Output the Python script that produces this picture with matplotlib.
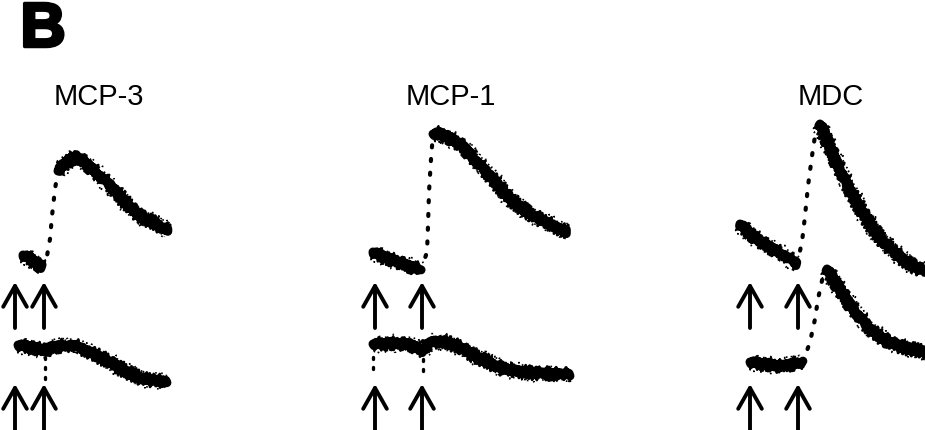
import numpy as np
import matplotlib.pyplot as plt
import matplotlib.patheffects as pe
from matplotlib.patches import FancyArrowPatch

# calcium flux traces, time (s) from first addition, signal (a.u.) above row baseline
# MCP-3
mcp3_top_t = [8, 15, 22, 27, 32, 35, 37, 40, 43, 52, 62, 72, 85, 98, 112, 125, 145, 153]
mcp3_top_f = [19, 16, 11, 7, 18, 35, 58, 85, 103, 113, 118, 110, 98, 86, 70, 58, 48, 43]
mcp3_bot_t = [3, 18, 30, 35, 45, 58, 75, 95, 112, 128, 152]
mcp3_bot_f = [24, 22, 18, 22, 23, 24, 17, 7, -3, -10, -13]
# MCP-1
mcp1_top_t = [-2, 15, 32, 46, 52, 53, 54, 56, 58, 65, 75, 88, 102, 118, 135, 152, 170, 185, 192]
mcp1_top_f = [22, 15, 9, 4, 22, 48, 82, 115, 140, 141, 136, 128, 112, 95, 75, 62, 52, 45, 42]
mcp1_bot_t = [-2, 15, 35, 48, 55, 68, 85, 102, 128, 158, 195]
mcp1_bot_f = [25, 26, 25, 18, 27, 28, 22, 12, 0, -4, -5]
# MDC
mdc_top_t = [-10, 7, 20, 37, 47, 52, 55, 58, 62, 65, 70, 75, 82, 90, 100, 110, 120, 130, 142, 155, 167, 175]
mdc_top_f = [50, 35, 27, 17, 10, 32, 58, 88, 118, 138, 150, 140, 122, 104, 84, 66, 50, 36, 24, 13, 6, 3]
mdc_bot_t = [0, 17, 30, 53, 60, 65, 68, 73, 77, 85, 95, 107, 120, 135, 152, 175]
mdc_bot_f = [7, 5, 3, 7, 27, 50, 70, 93, 100, 88, 72, 55, 40, 29, 22, 17]

# response window (rise after 2nd addition) drawn as sparse points
rise_top = [(27, 43), (46, 58), (47, 70)]
rise_bot = [None, None, (53, 77)]
# second addition time per panel
second_add = [29, 47, 48]
# injection artefacts: (t, f from, f to)
dips_bot = [[(30, 12, -10)], [(-2, 12, -3), (48, 10, -5)], []]

titles = ['MCP-3', 'MCP-1', 'MDC']
tops = [(mcp3_top_t, mcp3_top_f), (mcp1_top_t, mcp1_top_f), (mdc_top_t, mdc_top_f)]
bots = [(mcp3_bot_t, mcp3_bot_f), (mcp1_bot_t, mcp1_bot_f), (mdc_bot_t, mdc_bot_f)]

# layout (pixels)
x0 = [15, 375, 750]
title_x = [99, 451, 831]
row_ref = [275, 370]
arrow_tip = [283, 385]
arrow_len = 46

fig = plt.figure(figsize=(9.25, 4.31), dpi=100)
ax = fig.add_axes([0, 0, 1, 1])
ax.set_xlim(0, 925)
ax.set_ylim(431, 0)
ax.axis('off')


def band(xs, ys):
    l1, = ax.plot(xs, ys, color='black', lw=6.5, solid_capstyle='round')
    l1.set_sketch_params(2, 3, 2)
    l2, = ax.plot(xs, ys, color='black', lw=2)
    l2.set_sketch_params(7, 3, 2)
    l3, = ax.plot(xs, ys, color='black', lw=1.2, ls=(0, (1, 3)))
    l3.set_sketch_params(9, 2, 3)


def trace(t, f, ref, x_off, rise):
    t = np.array(t, float)
    f = np.array(f, float)
    xs = x_off + t
    ys = ref - f
    if rise is None:
        band(xs, ys)
        return
    a, b = rise
    pre = t <= a
    mid = (t >= a) & (t <= b)
    post = t >= b
    band(xs[pre], ys[pre])
    ax.plot(xs[mid], ys[mid], color='black', lw=3, ls=(0, (0.5, 2.8)),
            dash_capstyle='round')
    band(xs[post], ys[post])


for i in range(3):
    ax.text(title_x[i], 97, titles[i], fontsize=21, family='Liberation Sans',
            ha='center', va='center')
    trace(*tops[i], row_ref[0], x0[i], rise_top[i])
    trace(*bots[i], row_ref[1], x0[i], rise_bot[i])
    for t, fa, fb in dips_bot[i]:
        ax.plot([x0[i] + t, x0[i] + t], [row_ref[1] - fa, row_ref[1] - fb],
                color='black', lw=2.4, ls=(0, (0.6, 2.4)), dash_capstyle='round')
    for r in range(2):
        for t in (0, second_add[i]):
            x = x0[i] + t
            arr = FancyArrowPatch((x, arrow_tip[r] + arrow_len), (x, arrow_tip[r]),
                                  arrowstyle='->,head_length=15,head_width=8.5',
                                  mutation_scale=1, lw=2.8, color='black',
                                  shrinkA=0, shrinkB=0)
            ax.add_patch(arr)

ax.text(43, 31, 'B', fontsize=45, fontweight='bold', family='Liberation Sans',
        ha='center', va='center',
        path_effects=[pe.withStroke(linewidth=2.5, foreground='black')])

fig.savefig('out.png', dpi=100)
